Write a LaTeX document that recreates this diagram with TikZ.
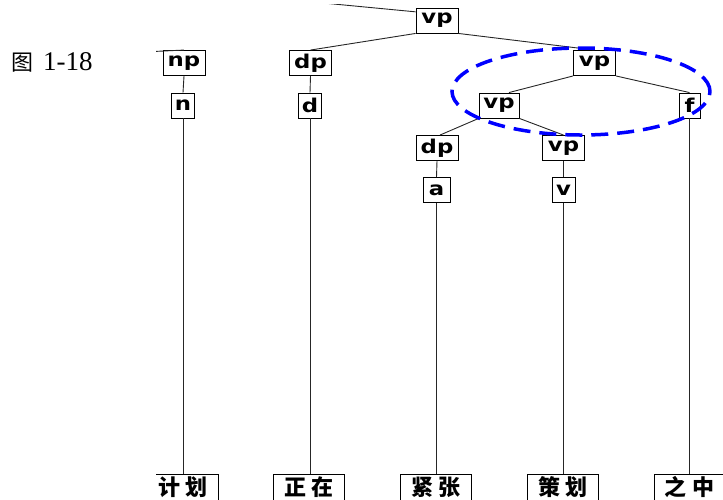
\documentclass[tikz,border=0pt]{standalone}
\usepackage{fontspec}
\setmainfont{Liberation Serif}
\newfontfamily\cjkword{Noto Sans CJK SC}
\newfontfamily\cjklabel{Noto Sans CJK SC}
\newfontfamily\catfont[FakeStretch=1.2]{DejaVu Sans}
\begin{document}
\begin{tikzpicture}[x=1pt,y=-1pt,
  box/.style={draw=black,fill=white,line width=0.9pt,inner sep=0pt,
    font=\catfont\bfseries\fontsize{19}{19}\selectfont},
  catbox/.style={box,minimum width=42pt,minimum height=25pt},
  posbox/.style={box,minimum width=23pt,minimum height=25pt},
  wordbox/.style={draw=black,fill=white,line width=0.9pt,inner sep=0pt,
    minimum width=71pt,minimum height=27pt,
    font=\cjkword\bfseries\fontsize{22}{22}\selectfont},
  edge/.style={draw=black!85,line width=0.9pt},
  focus/.style={draw=blue,line width=3.5pt,dash pattern=on 17pt off 9pt}]
\useasboundingbox (0,0) rectangle (723,499);
\node[anchor=base west,inner sep=0pt] (figlabel) at (11,70)
  {{\cjklabel\fontsize{22}{22}\selectfont 图}\hspace{10pt}{\fontsize{27}{27}\selectfont 1-18}};
\begin{scope}
\clip (156,4) rectangle (723,499);
\coordinate (rootp) at (250,-4);
\coordinate (nproot) at (100,54);
\node[catbox] (vp0) at (437,20.5) {vp};
\node[catbox] (np) at (184,63) {np};
\node[catbox] (dp) at (310.5,63) {dp};
\node[catbox] (vp1) at (594.5,63) {vp};
\node[posbox] (n) at (183,105.5) {n};
\node[posbox] (d) at (310,105.5) {d};
\node[catbox,minimum width=40pt] (vp2) at (499,105.5) {vp};
\node[posbox,minimum width=21pt] (f) at (689.5,105.5) {f};
\node[catbox] (dp2) at (437,148) {dp};
\node[catbox] (vp3) at (563.5,148) {vp};
\node[posbox,minimum width=27pt] (a) at (436.5,190) {a};
\node[posbox] (v) at (563.5,190) {v};
\node[wordbox] (w1) at (183,487.5) {计\hspace{6pt}划};
\node[wordbox] (w2) at (309,487.5) {正\hspace{6pt}在};
\node[wordbox] (w3) at (436,487.5) {紧\hspace{6pt}张};
\node[wordbox] (w4) at (563,487.5) {策\hspace{6pt}划};
\node[wordbox] (w5) at (689.5,487.5) {之\hspace{6pt}中};
\draw[edge] (rootp) -- (vp0.158);
\draw[edge] (nproot) -- (np.north);
\draw[edge] (vp0.south west) -- (dp.north);
\draw[edge] (vp0.south east) -- (vp1.north);
\draw[edge] (vp1.south west) -- ([xshift=10pt]vp2.north);
\draw[edge] (vp1.south east) -- (f.north);
\draw[edge] (vp2.south west) -- ([xshift=3pt]dp2.north);
\draw[edge] (vp2.south east) -- (vp3.north);
\draw[edge] (np.south) -- (n.north);
\draw[edge] (dp.south) -- (d.north);
\draw[edge] (dp2.south) -- (a.north);
\draw[edge] (vp3.south) -- (v.north);
\draw[edge] (n.south) -- (n.south |- w1.north);
\draw[edge] (d.south) -- (d.south |- w2.north);
\draw[edge] (a.south) -- (a.south |- w3.north);
\draw[edge] (v.south) -- (v.south |- w4.north);
\draw[edge] (f.south) -- (f.south |- w5.north);
\draw[focus] (581,91.5) ellipse [x radius=129pt, y radius=43.5pt];
\end{scope}
\end{tikzpicture}
\end{document}
